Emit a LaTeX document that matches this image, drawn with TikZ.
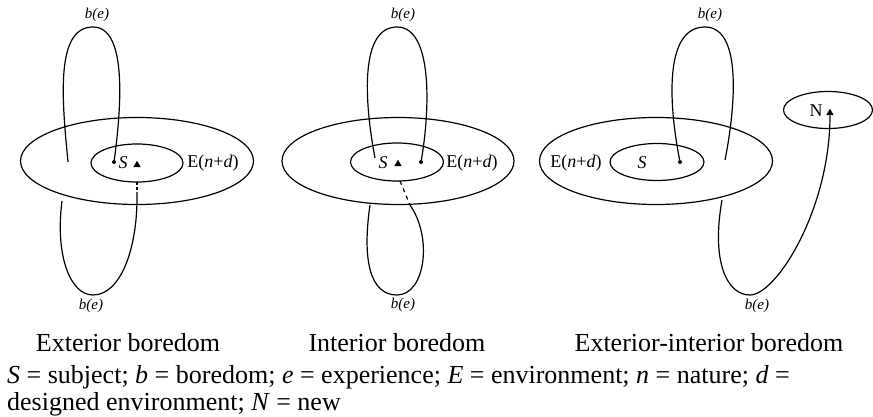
\documentclass[tikz,border=0pt]{standalone}
\usepackage{fontspec}
\setmainfont{Liberation Serif}
\usetikzlibrary{shapes.geometric}

\tikzset{
  ring/.style={ellipse, draw, line width=1.2pt, inner sep=0pt},
  strand/.style={line width=1.2pt},
  dotm/.style={circle, fill, inner sep=0pt, minimum size=4pt},
  trim/.style={regular polygon, regular polygon sides=3, fill, inner sep=0pt, minimum size=8.5pt},
  be/.style={font=\fontsize{15}{15}\selectfont\itshape, inner sep=0pt},
  lbl/.style={font=\fontsize{18}{18}\selectfont, inner sep=0pt},
  captxt/.style={font=\fontsize{26}{26}\selectfont, inner sep=0pt}
}

\begin{document}
\begin{tikzpicture}[x=1pt, y=-1pt]
    \useasboundingbox (0,0) rectangle (873,417);

    % exterior boredom
    \node[ring, minimum width=233pt, minimum height=87pt] (outA) at (137,161) {};
    \node[ring, minimum width=92pt, minimum height=38pt] (inA) at (137,163) {};
    \node[dotm] (dotA) at (114,162) {};
    \node[lbl] (sA) at (123,163) {\textit{S}};
    \node[trim] (triA) at (137,165) {};
    \node[lbl] (envA) at (213,163) {E(\textit{n}+\textit{d})};
    \node[be] (btopA) at (97,15) {b(e)};
    \node[be] (bbotA) at (91,306) {b(e)};
    \coordinate (endA) at (68,162);
    \coordinate (cutA) at (137,182);
    \coordinate (undA) at (137,192);
    \coordinate (legA) at (62,201);
    \draw[strand] (endA) .. controls (62,100) and (55,27) .. (93,27)
        .. controls (128,27) and (121,110) .. (dotA);
    \draw[strand, dash pattern=on 3pt off 2pt] (cutA) -- (undA);
    \draw[strand] (legA) .. controls (55,255) and (70,295) .. (93,295)
        .. controls (120,295) and (138,250) .. (undA);

    % interior boredom
    \node[ring, minimum width=232pt, minimum height=87pt] (outB) at (398,161) {};
    \node[ring, minimum width=93pt, minimum height=38pt] (inB) at (397,162) {};
    \node[lbl] (sB) at (383,163) {\textit{S}};
    \node[trim] (triB) at (398,164) {};
    \node[dotm] (dotB) at (421,162) {};
    \node[lbl] (envB) at (472,163) {E(\textit{n}+\textit{d})};
    \node[be] (btopB) at (403,15) {b(e)};
    \node[be] (bbotB) at (403,305) {b(e)};
    \coordinate (endB) at (375,158);
    \coordinate (cutB) at (400,181);
    \coordinate (undB) at (410,205);
    \coordinate (legB) at (370,205);
    \draw[strand] (endB) .. controls (364,100) and (360,27) .. (397,27)
        .. controls (433,27) and (430,110) .. (dotB);
    \draw[strand, dash pattern=on 4pt off 4pt] (cutB) -- (undB);
    \draw[strand] (legB) .. controls (362,260) and (370,295) .. (397,295)
        .. controls (425,295) and (433,238) .. (undB);

    % exterior-interior boredom
    \node[ring, minimum width=233pt, minimum height=87pt] (outC) at (656,161) {};
    \node[ring, minimum width=94pt, minimum height=37pt] (inC) at (657,162) {};
    \node[ring, minimum width=89pt, minimum height=37pt] (newC) at (828,110) {};
    \node[lbl] (sC) at (642,163) {\textit{S}};
    \node[dotm] (dotC) at (680,162) {};
    \node[lbl] (envC) at (576,163) {E(\textit{n}+\textit{d})};
    \node[lbl] (nC) at (816,111) {N};
    \node[trim] (triC) at (830,113) {};
    \node[be] (btopC) at (710,15) {b(e)};
    \node[be] (bbotC) at (757,306) {b(e)};
    \coordinate (endC) at (725,160);
    \coordinate (legC) at (722,200);
    \draw[strand] (dotC) .. controls (668,100) and (665,27) .. (705,27)
        .. controls (743,27) and (735,110) .. (endC);
    \draw[strand] (legC) .. controls (711,262) and (727,295) .. (750,295)
        .. controls (776,295) and (830,210) .. (triC.south);

    % captions
    \node[captxt, anchor=base] (capA) at (128,351) {Exterior boredom};
    \node[captxt, anchor=base] (capB) at (397,351) {Interior boredom};
    \node[captxt, anchor=base] (capC) at (709,351) {Exterior-interior boredom};
    \node[captxt, anchor=base west] (keyA) at (7,383)
        {\textit{S} = subject; \textit{b} = boredom; \textit{e} = experience; \textit{E} = environment; \textit{n} = nature; \textit{d} =};
    \node[captxt, anchor=base west] (keyB) at (7,410)
        {designed environment; \textit{N} = new};
\end{tikzpicture}
\end{document}
